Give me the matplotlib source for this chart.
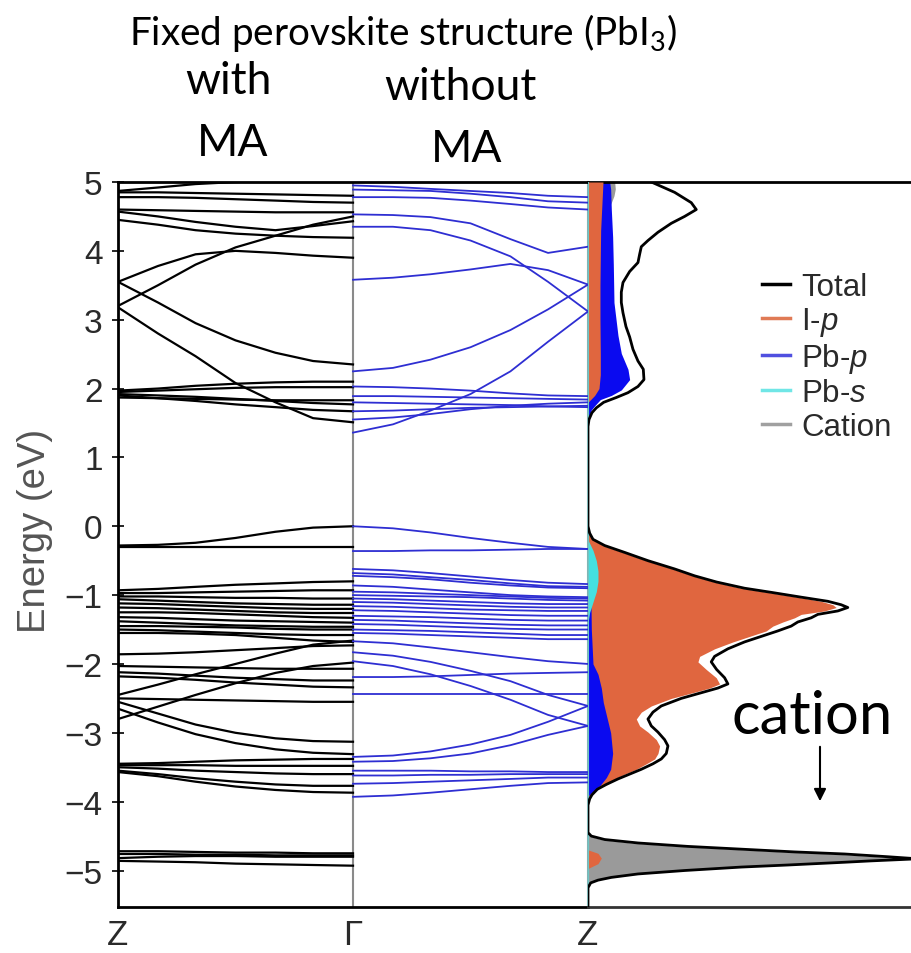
import matplotlib
matplotlib.use("Agg")
import matplotlib.pyplot as plt
from matplotlib.lines import Line2D

plt.rcParams['font.family'] = ['Liberation Sans', 'DejaVu Sans']
plt.rcParams['mathtext.fontset'] = 'custom'
plt.rcParams['mathtext.rm'] = 'Lato'
plt.rcParams['mathtext.it'] = 'Liberation Sans:italic'

# ---------------- data ----------------
K = [0.0, 0.17, 0.33, 0.5, 0.67, 0.83, 1.0]          # fractional path Z->Gamma

# bands with MA (Z -> Gamma), energies in eV
black_bands = [
    [4.87, 4.92, 4.97, 5.00, 5.02, 5.05, 5.05],
    [4.85, 4.85, 4.84, 4.83, 4.82, 4.81, 4.80],
    [4.78, 4.78, 4.77, 4.75, 4.73, 4.71, 4.70],
    [4.60, 4.59, 4.58, 4.57, 4.56, 4.56, 4.56],
    [4.57, 4.50, 4.42, 4.35, 4.30, 4.36, 4.43],
    [4.45, 4.38, 4.30, 4.25, 4.22, 4.20, 4.19],
    [3.55, 3.78, 3.95, 4.00, 3.97, 3.93, 3.90],
    [3.20, 3.50, 3.80, 4.05, 4.22, 4.38, 4.50],
    [3.55, 3.25, 2.95, 2.70, 2.52, 2.40, 2.35],
    [3.18, 2.80, 2.47, 2.08, 1.80, 1.57, 1.51],
    [1.97, 2.00, 2.04, 2.07, 2.09, 2.10, 2.10],
    [1.95, 1.97, 1.99, 2.01, 2.02, 2.02, 2.02],
    [1.92, 1.90, 1.88, 1.85, 1.82, 1.79, 1.77],
    [1.90, 1.86, 1.82, 1.77, 1.73, 1.69, 1.67],
    [1.87, 1.86, 1.85, 1.84, 1.83, 1.83, 1.83],
    [-0.28, -0.27, -0.24, -0.17, -0.08, -0.02, 0.00],
    [-0.30, -0.30, -0.30, -0.30, -0.30, -0.30, -0.30],
    [-0.93, -0.91, -0.88, -0.85, -0.83, -0.81, -0.80],
    [-0.97, -0.97, -0.96, -0.95, -0.94, -0.93, -0.93],
    [-1.02, -1.02, -1.03, -1.04, -1.04, -1.05, -1.05],
    [-1.06, -1.08, -1.10, -1.12, -1.13, -1.14, -1.14],
    [-1.12, -1.13, -1.15, -1.17, -1.19, -1.20, -1.20],
    [-1.18, -1.19, -1.21, -1.23, -1.25, -1.26, -1.26],
    [-1.25, -1.25, -1.26, -1.28, -1.30, -1.32, -1.33],
    [-1.32, -1.33, -1.35, -1.37, -1.38, -1.39, -1.40],
    [-1.38, -1.40, -1.42, -1.44, -1.45, -1.46, -1.46],
    [-1.45, -1.45, -1.46, -1.47, -1.49, -1.50, -1.50],
    [-1.50, -1.51, -1.53, -1.55, -1.57, -1.58, -1.58],
    [-1.55, -1.55, -1.56, -1.58, -1.62, -1.66, -1.68],
    [-1.86, -1.85, -1.83, -1.80, -1.77, -1.74, -1.73],
    [-2.45, -2.30, -2.15, -2.00, -1.85, -1.72, -1.66],
    [-2.80, -2.62, -2.45, -2.28, -2.13, -2.03, -1.98],
    [-2.55, -2.72, -2.88, -3.00, -3.08, -3.12, -3.13],
    [-2.65, -2.85, -3.02, -3.15, -3.24, -3.29, -3.31],
    [-2.03, -2.04, -2.05, -2.06, -2.07, -2.07, -2.07],
    [-2.12, -2.14, -2.17, -2.20, -2.22, -2.24, -2.24],
    [-2.18, -2.20, -2.23, -2.27, -2.30, -2.33, -2.34],
    [-2.50, -2.51, -2.52, -2.53, -2.54, -2.55, -2.55],
    [-3.45, -3.44, -3.42, -3.40, -3.39, -3.38, -3.38],
    [-3.47, -3.47, -3.47, -3.48, -3.48, -3.48, -3.48],
    [-3.50, -3.52, -3.55, -3.57, -3.59, -3.60, -3.60],
    [-3.55, -3.60, -3.66, -3.71, -3.75, -3.77, -3.77],
    [-3.57, -3.63, -3.71, -3.78, -3.83, -3.86, -3.87],
    [-4.72, -4.72, -4.73, -4.74, -4.74, -4.75, -4.75],
    [-4.76, -4.76, -4.77, -4.77, -4.78, -4.78, -4.78],
    [-4.82, -4.80, -4.79, -4.79, -4.80, -4.80, -4.80],
    [-4.86, -4.87, -4.88, -4.90, -4.91, -4.92, -4.93],
]

# bands without MA (Gamma -> Z), energies in eV
blue_bands = [
    [4.95, 4.93, 4.90, 4.87, 4.84, 4.80, 4.78],
    [4.89, 4.88, 4.87, 4.83, 4.78, 4.72, 4.70],
    [4.78, 4.78, 4.77, 4.73, 4.68, 4.63, 4.60],
    [4.53, 4.52, 4.49, 4.40, 4.17, 3.97, 4.06],
    [4.35, 4.35, 4.30, 4.15, 3.92, 3.55, 3.12],
    [3.58, 3.61, 3.66, 3.73, 3.81, 3.72, 3.51],
    [2.25, 2.30, 2.42, 2.60, 2.85, 3.15, 3.51],
    [1.36, 1.48, 1.68, 1.92, 2.25, 2.68, 3.12],
    [2.03, 2.02, 2.00, 1.97, 1.93, 1.90, 1.89],
    [1.89, 1.89, 1.88, 1.87, 1.86, 1.85, 1.84],
    [1.67, 1.68, 1.70, 1.72, 1.73, 1.74, 1.75],
    [1.55, 1.58, 1.63, 1.70, 1.75, 1.78, 1.80],
    [1.80, 1.79, 1.78, 1.77, 1.76, 1.74, 1.73],
    [0.00, -0.03, -0.09, -0.17, -0.24, -0.30, -0.33],
    [-0.36, -0.36, -0.35, -0.35, -0.34, -0.33, -0.33],
    [-0.62, -0.64, -0.68, -0.73, -0.78, -0.82, -0.84],
    [-0.68, -0.70, -0.74, -0.78, -0.83, -0.87, -0.88],
    [-0.72, -0.74, -0.77, -0.82, -0.86, -0.89, -0.90],
    [-0.86, -0.88, -0.92, -0.96, -1.00, -1.02, -1.03],
    [-0.95, -0.96, -0.98, -1.00, -1.02, -1.04, -1.05],
    [-1.00, -1.01, -1.02, -1.03, -1.05, -1.07, -1.08],
    [-1.05, -1.06, -1.08, -1.10, -1.12, -1.13, -1.13],
    [-1.10, -1.11, -1.13, -1.15, -1.17, -1.18, -1.18],
    [-1.16, -1.17, -1.19, -1.21, -1.22, -1.23, -1.23],
    [-1.22, -1.23, -1.25, -1.27, -1.29, -1.30, -1.30],
    [-1.30, -1.31, -1.32, -1.34, -1.36, -1.37, -1.37],
    [-1.36, -1.37, -1.39, -1.41, -1.43, -1.44, -1.44],
    [-1.42, -1.43, -1.45, -1.47, -1.49, -1.50, -1.50],
    [-1.50, -1.51, -1.52, -1.54, -1.56, -1.58, -1.58],
    [-1.55, -1.56, -1.58, -1.60, -1.62, -1.64, -1.64],
    [-1.67, -1.70, -1.76, -1.83, -1.90, -1.96, -2.00],
    [-1.83, -1.88, -1.97, -2.10, -2.25, -2.45, -2.61],
    [-1.96, -2.03, -2.15, -2.32, -2.52, -2.74, -2.90],
    [-2.19, -2.19, -2.18, -2.16, -2.14, -2.13, -2.12],
    [-2.44, -2.44, -2.44, -2.44, -2.44, -2.44, -2.44],
    [-3.35, -3.33, -3.27, -3.17, -3.03, -2.84, -2.61],
    [-3.42, -3.41, -3.37, -3.30, -3.18, -3.03, -2.90],
    [-3.55, -3.55, -3.55, -3.56, -3.56, -3.57, -3.57],
    [-3.62, -3.62, -3.61, -3.61, -3.60, -3.60, -3.60],
    [-3.74, -3.73, -3.71, -3.69, -3.67, -3.65, -3.65],
    [-3.93, -3.91, -3.87, -3.82, -3.77, -3.73, -3.72],
]

# density of states (arbitrary units)
total_E = [5.0, 4.85, 4.7, 4.6, 4.5, 4.4, 4.27, 4.15, 4.06, 3.95, 3.83, 3.7, 3.54, 3.4, 3.25,
           3.1, 2.9, 2.75, 2.57, 2.4, 2.28, 2.13, 2.03, 1.94, 1.87, 1.8, 1.72, 1.65, 1.55, 1.45,
           0.0, -0.1, -0.19, -0.28, -0.38, -0.5, -0.62, -0.72, -0.81, -0.9, -0.96, -1.03, -1.09,
           -1.14, -1.18, -1.23, -1.28, -1.33, -1.39, -1.45, -1.52, -1.6, -1.68, -1.78, -1.89,
           -1.97, -2.08, -2.2, -2.29, -2.35, -2.41, -2.5, -2.61, -2.7, -2.8, -2.9, -2.99, -3.1,
           -3.19, -3.3, -3.38, -3.45, -3.53, -3.6, -3.67, -3.75, -3.82, -3.9, -3.96, -4.05,
           -4.45, -4.5, -4.55, -4.6, -4.65, -4.69, -4.73, -4.76, -4.8, -4.83, -4.86, -4.88,
           -4.92, -4.95, -5.0, -5.05, -5.1, -5.14, -5.18, -5.25, -5.55]
total = [1.9, 2.6, 3.1, 3.25, 2.9, 2.5, 2.1, 1.8, 1.6, 1.55, 1.5, 1.25, 1.05, 1.0, 1.0,
         1.05, 1.14, 1.25, 1.35, 1.5, 1.66, 1.68, 1.5, 1.2, 0.85, 0.47, 0.25, 0.12, 0.03, 0.0,
         0.0, 0.05, 0.15, 0.5, 1.1, 1.8, 2.6, 3.2, 3.86, 4.7, 5.5, 6.4, 7.2,
         7.6, 7.8, 7.5, 6.9, 6.7, 6.3, 6.1, 5.7, 5.2, 4.7, 4.2, 3.8,
         3.7, 3.86, 4.1, 4.2, 3.9, 3.46, 2.8, 2.2, 1.95, 1.8, 1.9, 2.1, 2.3,
         2.4, 2.35, 2.2, 1.95, 1.6, 1.25, 0.9, 0.55, 0.28, 0.12, 0.05, 0.0,
         0.0, 0.1, 0.5, 1.5, 3.0, 4.6, 6.2, 7.7, 9.0, 9.9, 8.5, 7.7,
         6.0, 4.6, 2.9, 1.5, 0.7, 0.3, 0.08, 0.0, 0.0]

ip_cb_E = [5.0, 4.7, 4.3, 3.9, 3.5, 3.0, 2.5, 2.2, 2.0, 1.9, 1.8]
ip_cb = [0.45, 0.42, 0.38, 0.37, 0.36, 0.36, 0.37, 0.37, 0.33, 0.2, 0.0]
ip_vb_E = [-0.05, -0.19, -0.28, -0.38, -0.5, -0.62, -0.72, -0.81, -0.9, -0.96, -1.03, -1.09,
           -1.14, -1.18, -1.23, -1.28, -1.33, -1.39, -1.45, -1.52, -1.6, -1.68, -1.78, -1.89,
           -1.97, -2.08, -2.2, -2.29, -2.35, -2.41, -2.5, -2.61, -2.7, -2.8, -2.9, -2.99,
           -3.1, -3.19, -3.3, -3.38, -3.45, -3.53, -3.6, -3.67, -3.75, -3.82, -3.9, -3.96, -4.05]
ip_vb = [0.0, 0.12, 0.45, 1.05, 1.75, 2.55, 3.15, 3.8, 4.6, 5.4, 6.3, 7.0,
         7.35, 7.45, 7.1, 6.4, 6.2, 5.85, 5.55, 5.35, 4.85, 4.35, 3.8, 3.35,
         3.3, 3.55, 3.85, 3.95, 3.65, 3.2, 2.5, 1.9, 1.6, 1.45, 1.55, 1.8,
         2.05, 2.15, 2.1, 2.0, 1.75, 1.45, 1.1, 0.8, 0.5, 0.25, 0.1, 0.03, 0.0]
ip_cat_E = [-4.7, -4.75, -4.82, -4.9, -4.97]
ip_cat = [0.0, 0.3, 0.4, 0.3, 0.0]

pbp_cb_E = [5.0, 4.9, 4.6, 4.2, 3.8, 3.25, 2.77, 2.51, 2.28, 2.13, 1.98, 1.9, 1.84, 1.75, 1.69, 1.55]
pbp_cb = [0.65, 0.68, 0.7, 0.74, 0.76, 0.78, 0.9, 1.0, 1.2, 1.25, 1.0, 0.7, 0.37, 0.2, 0.1, 0.0]
pbp_vb_E = [-0.3, -0.8, -1.5, -2.0, -2.15, -2.35, -2.56, -2.8, -3.0, -3.3, -3.53, -3.65, -3.76, -3.85, -3.92]
pbp_vb = [0.0, 0.08, 0.1, 0.15, 0.3, 0.4, 0.46, 0.58, 0.68, 0.74, 0.68, 0.55, 0.37, 0.15, 0.0]

pbs_vb_E = [-0.2, -0.35, -0.5, -0.65, -0.8, -0.95, -1.1, -1.25, -1.4]
pbs_vb = [0.0, 0.15, 0.25, 0.3, 0.3, 0.25, 0.15, 0.05, 0.0]

cat_cb_E = [5.0, 4.9, 4.8, 4.7, 4.6, 4.5]
cat_cb = [0.8, 0.82, 0.78, 0.7, 0.6, 0.0]
cat_vb_E = [-4.45, -4.5, -4.55, -4.6, -4.65, -4.69, -4.73, -4.76, -4.8, -4.83, -4.86, -4.88,
            -4.92, -4.95, -5.0, -5.05, -5.1, -5.14, -5.18, -5.25]
cat_vb = [0.0, 0.05, 0.4, 1.3, 2.8, 4.3, 5.9, 7.4, 8.7, 9.6, 8.2, 7.4,
          5.7, 4.3, 2.6, 1.3, 0.55, 0.2, 0.04, 0.0]

yticks = [-5, -4, -3, -2, -1, 0, 1, 2, 3, 4, 5]
xtick_pos = [0, 1, 2]
xtick_labels = ['Z', 'Γ', 'Z']
legend_labels = ['Total', 'I-$\\it{p}$', 'Pb-$\\it{p}$', 'Pb-$\\it{s}$', 'Cation']

# ---------------- colours ----------------
C_IP = '#E0663F'
C_PBP = '#0A0AF0'
C_PBS = '#45E0E0'
C_CAT = '#9A9A9A'
C_BLUE_BAND = '#2E2ED2'

W, H = 912, 954
fig = plt.figure(figsize=(W / 100, H / 100), dpi=100)
x0, x1, x2 = 118, 588, 912
ytop, ybot = 183, 908
ax = fig.add_axes([x0 / W, 1 - ybot / H, (x1 - x0) / W, (ybot - ytop) / H])
axd = fig.add_axes([x1 / W, 1 - ybot / H, (x2 - x1) / W + 0.01, (ybot - ytop) / H])

YLIM = (-5.53, 5.0)

for b in black_bands:
    ax.plot(K, b, color='black', lw=1.6, zorder=3)
for b in blue_bands:
    ax.plot([1 + k for k in K], b, color=C_BLUE_BAND, lw=1.3, zorder=3)
ax.axvline(1, color='#8a8a8a', lw=1.5, zorder=2)

ax.set_xlim(0, 2)
ax.set_ylim(*YLIM)
ax.set_yticks(yticks)
ax.set_xticks(xtick_pos)
ax.set_xticklabels(xtick_labels)
for s in ['left', 'top', 'bottom']:
    ax.spines[s].set_linewidth(2)
    ax.spines[s].set_color('black')
ax.spines['right'].set_color('#7fb5b5')
ax.spines['right'].set_linewidth(1.5)
ax.tick_params(axis='y', direction='inout', length=8, width=1.2, labelsize=24,
               labelcolor='#2a2a2a', pad=7)
ax.tick_params(axis='x', length=0, labelsize=25, labelcolor='#2a2a2a', pad=8)
ax.set_ylabel('Energy (eV)', fontsize=27.5, color='#555555')
ax.yaxis.set_label_coords(-0.138, 0.52)

# ---------------- DOS ----------------
axd.fill_betweenx(cat_cb_E, 0, cat_cb, color=C_CAT, lw=0, zorder=1)
axd.fill_betweenx(pbp_cb_E, 0, pbp_cb, color=C_PBP, lw=0, zorder=2)
axd.fill_betweenx(ip_cb_E, 0, ip_cb, color=C_IP, lw=0, zorder=3)
axd.fill_betweenx(cat_vb_E, 0, cat_vb, color=C_CAT, lw=0, zorder=1)
axd.fill_betweenx(ip_vb_E, 0, ip_vb, color=C_IP, lw=0, zorder=2)
axd.fill_betweenx(ip_cat_E, 0, ip_cat, color=C_IP, lw=0, zorder=2)
axd.fill_betweenx(pbp_vb_E, 0, pbp_vb, color=C_PBP, lw=0, zorder=3)
axd.fill_betweenx(pbs_vb_E, 0, pbs_vb, color=C_PBS, lw=0, zorder=4)
axd.plot(total, total_E, color='black', lw=2, zorder=6)
axd.axvline(0, color='#6fc4c4', lw=1.5, zorder=5)

axd.set_xlim(0, 10)
axd.set_ylim(*YLIM)
axd.set_xticks([])
axd.set_yticks([])
axd.spines['left'].set_visible(False)
axd.spines['right'].set_visible(False)
axd.spines['top'].set_linewidth(2)
axd.spines['bottom'].set_linewidth(2)
axd.spines['bottom'].set_color('#333333')

handles = [Line2D([], [], color=c, lw=2.5) for c in
           ['black', '#E07A55', '#5050E0', '#70E6E6', '#A0A0A0']]
leg = fig.legend(handles, legend_labels, loc='upper left',
                 bbox_to_anchor=(762 / W, 1 - 273 / H), frameon=False,
                 fontsize=22.5, handlelength=0.9, handletextpad=0.35,
                 labelspacing=0.1, borderpad=0, borderaxespad=0)
for t in leg.get_texts():
    t.set_color('#2a2a2a')

# ---------------- annotations ----------------
TF = ['Lato', 'DejaVu Sans']
fig.text(403 / W, 1 - 33 / H, 'Fixed perovskite structure (PbI$_3$)', family=TF,
         fontsize=27.8, ha='center', va='center')
fig.text(228 / W, 1 - 82 / H, 'with', family=TF, fontsize=32, ha='center', va='center')
fig.text(233 / W, 1 - 143 / H, 'MA', family=TF, fontsize=32, ha='center', va='center')
fig.text(460 / W, 1 - 88 / H, 'without', family=TF, fontsize=32, ha='center', va='center')
fig.text(467 / W, 1 - 149 / H, 'MA', family=TF, fontsize=32, ha='center', va='center')
fig.text(812 / W, 1 - 717 / H, 'cation', family=TF, fontsize=43, ha='center', va='center')
fig.patches.append(matplotlib.patches.FancyArrowPatch(
    (820 / W, 1 - 745 / H), (820 / W, 1 - 805 / H), transform=fig.transFigure,
    arrowstyle='-|>', mutation_scale=18, color='black', lw=1.5))

fig.savefig('out.png', dpi=100)
